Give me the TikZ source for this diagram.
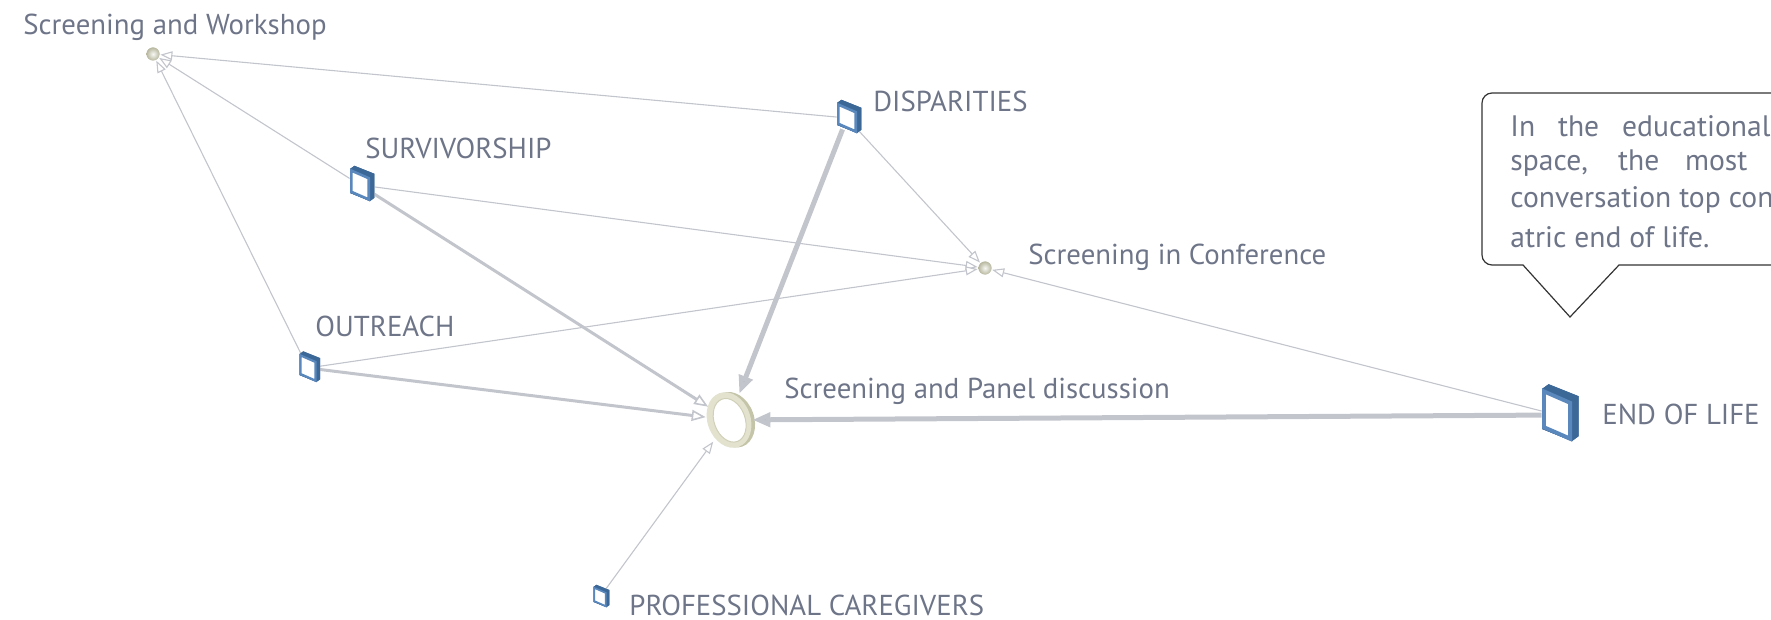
\documentclass[tikz,border=0pt]{standalone}
\usepackage{fontspec}
\setmainfont{PT Sans}
\usetikzlibrary{arrows.meta,shapes.geometric}
\definecolor{labelc}{HTML}{6E7588}
\definecolor{edgec}{HTML}{C3C5CC}
\definecolor{tipc}{HTML}{B9BBC4}
\definecolor{platedark}{HTML}{3C6898}
\definecolor{plateblue}{HTML}{5A88BC}
\definecolor{spherec}{HTML}{CDCDB3}
\definecolor{ringc}{HTML}{E2E2CF}
\definecolor{ringd}{HTML}{C4C4A8}
\tikzset{
  lbl/.style={anchor=west, inner sep=0pt, text=labelc, font=\fontsize{14.4}{17}\selectfont},
  thinedge/.style={draw=edgec, line width=0.55pt, -{Triangle[open, length=6pt, width=4.5pt, fill=white]}},
  midedge/.style={draw=edgec, line width=1.5pt, -{Triangle[open, length=7pt, width=5.5pt, fill=white, line width=0.8pt]}},
  thickedge/.style={draw=edgec, line width=2.5pt, -{Triangle[length=9pt, width=7pt, fill=tipc]}},
  hub/.style={circle, inner sep=0pt, minimum size=7pt},
  callout/.style={draw=black!80, line width=0.6pt, fill=white},
  ctext/.style={anchor=west, inner sep=0pt, text=labelc, font=\fontsize{14.8}{17}\selectfont},
}
\newcommand\plate[5]{% name, x, y, w, h
  \begin{scope}[shift={(#2,#3)}]
    \fill[platedark] ({-#4/2},{-#5/2-0.2*#4}) -- ({-#4/2+0.22*#4},{-#5/2-0.2*#4-0.16*#4})
      -- ({#4/2+0.22*#4},{-#5/2+0.2*#4-0.16*#4}) -- ({#4/2+0.22*#4},{#5/2+0.2*#4-0.16*#4})
      -- ({#4/2},{#5/2+0.2*#4}) -- ({-#4/2},{#5/2-0.2*#4}) -- cycle;
    \filldraw[fill=white, draw=plateblue, line width={0.065*#4*1pt}]
      ({-#4/2+0.065*#4},{-#5/2-0.2*#4+0.08*#4}) -- ({#4/2-0.065*#4},{-#5/2+0.2*#4+0.06*#4}) -- ({#4/2-0.065*#4},{#5/2+0.2*#4-0.08*#4}) -- ({-#4/2+0.065*#4},{#5/2-0.2*#4-0.06*#4}) -- cycle;
    \node[inner sep=0pt, minimum width={#4*0.5pt}, minimum height={#5*0.5pt}] (#1) at (0,0) {};
  \end{scope}}
\newcommand\sphere[3]{% name x y
  \shade[inner color=white!85!spherec, outer color=spherec!90!black] (#2,#3) circle [radius=6.5];
  \node[hub] (#1) at (#2,#3) {};}
\begin{document}
\begin{tikzpicture}[x=0.5pt, y=-0.5pt]
\useasboundingbox (0,0) rectangle (1771,620);
% nodes (for anchors)
\sphere{workshop}{153}{54}
\sphere{conf}{985}{268}
\plate{disp}{847}{118}{20}{22}
\plate{surv}{360}{185}{20}{24}
\plate{outr}{308}{368}{17}{21}
\plate{prof}{600}{597}{13}{15}
\plate{eol}{1557}{415}{30}{40}
% ring
\begin{scope}[shift={(729,420)}, rotate=20]
  \fill[ringd] (3.5,1) ellipse [x radius=21.5, y radius=28.5];
  \fill[ringc] (0,0) ellipse [x radius=21.5, y radius=28.5];
  \fill[white] (0.5,0.5) ellipse [x radius=15.5, y radius=22.5];
  \draw[ringd!60!ringc, line width=0.5pt] (0.5,0.5) ellipse [x radius=15.5, y radius=22.5];
\end{scope}
\node[ellipse, inner sep=0pt, minimum width=23pt, minimum height=29pt] (panel) at (729,420) {};
% edges
\draw[thinedge] (disp) -- (workshop);
\draw[thinedge] (surv) -- (workshop);
\draw[thinedge] (outr) -- (workshop);
\draw[thinedge] (disp) -- (conf);
\draw[thinedge] (surv) -- (conf);
\draw[thinedge] (outr) -- (conf);
\draw[thinedge] (eol) -- (conf);
\draw[thinedge] (prof) -- (panel);
\draw[midedge] (surv) -- (panel);
\draw[midedge] (outr) -- (panel);
\draw[thickedge] (disp) -- (panel);
\draw[thickedge] (eol) -- (panel);
% redraw nodes on top
\plate{disp}{847}{118}{20}{22}
\plate{surv}{360}{185}{20}{24}
\plate{outr}{308}{368}{17}{21}
\plate{prof}{600}{597}{13}{15}
\plate{eol}{1557}{415}{30}{40}
\sphere{workshop}{153}{54}
\sphere{conf}{985}{268}
% labels
\node[lbl] (lworkshop) at (23,27) {Screening and Workshop};
\node[lbl] (ldisp) at (873,101) {DISPARITIES};
\node[lbl] (lsurv) at (365,148) {SURVIVORSHIP};
\node[lbl] (lconf) at (1028,257) {Screening in Conference};
\node[lbl] (loutr) at (315,326) {OUTREACH};
\node[lbl] (lpanel) at (784,391) {Screening and Panel discussion};
\node[lbl] (leol) at (1602,414) {END OF LIFE};
\node[lbl] (lprof) at (629,605) {PROFESSIONAL CAREGIVERS};
% callout
\begin{scope}
\clip (0,0) rectangle (1771,620);
\draw[callout] (1850,265) -- (1619,265) -- (1570,317) -- (1523,265) [rounded corners=5pt] -- (1482,265) -- (1482,93) -- (1850,93);
\node[ctext] (c1) at (1510,126) {\makebox[130pt][s]{In the educational}};
\node[ctext] (c2) at (1510,163) {\makebox[118.5pt][s]{space, the most}};
\node[ctext] (c3) at (1510,200) {conversation top con};
\node[ctext] (c4) at (1510,237) {atric end of life.};
\end{scope}
\end{tikzpicture}
\end{document}
